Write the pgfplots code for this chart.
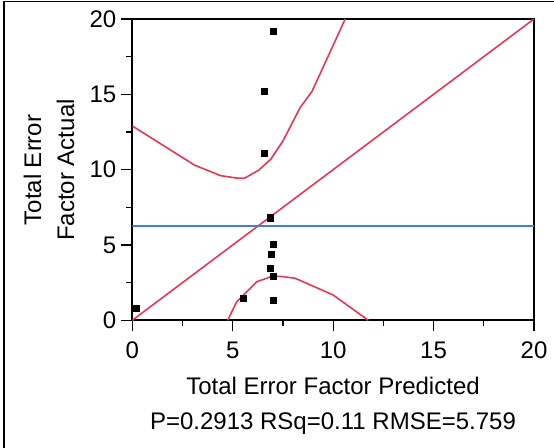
\documentclass[border=0pt]{standalone}
\usepackage{fontspec}
\setmainfont{Liberation Sans}
\usepackage{pgfplots}
\pgfplotsset{compat=1.18}
\definecolor{fitred}{RGB}{237,52,82}
\definecolor{meanblue}{RGB}{60,125,230}
\newcommand{\bigfont}{\fontsize{24bp}{33bp}\selectfont}

\begin{document}
\begin{tikzpicture}[x=1bp,y=1bp]
\path[use as bounding box] (0,0) rectangle (554,448);
% outer frame (only left and top visible)
\draw[line width=1.5bp] (4,0) -- (4,446.5) -- (554,446.5);
\begin{axis}[
  at={(132.3bp,127.7bp)}, anchor=south west, scale only axis,
  width=401.7bp, height=301.3bp,
  xmin=0, xmax=20, ymin=0, ymax=20,
  xtick={0,5,...,20}, ytick={0,5,...,20},
  minor tick num=1,
  tick align=outside, xtick pos=left, ytick pos=left,
  major tick length=11bp, minor tick length=6bp,
  tick style={black, line width=1.3bp},
  axis line style={line width=1.8bp},
  ticklabel style={font=\bigfont},
  xticklabel style={yshift=-7bp},
  yticklabel style={xshift=-1.5bp},
  /pgf/number format/assume math mode=true,
]
% fit line and mean line
\addplot[fitred, line width=1.6bp] coordinates {(0,0) (20,20)};
\addplot[meanblue, line width=1.6bp] coordinates {(0,6.26) (20,6.26)};
% confidence curves
\addplot[fitred, line width=1.6bp] coordinates {
  (0,12.9) (3.1,10.3) (4.4,9.6) (5.2,9.44) (5.6,9.44) (6.3,9.97)
  (6.9,10.7) (7.5,11.9) (8.35,14.1) (8.95,15.2) (10.6,20)};
\addplot[fitred, line width=1.6bp] coordinates {
  (4.75,0) (5.2,1.23) (6.2,2.56) (7.0,2.94) (7.5,2.9) (8.1,2.79)
  (8.35,2.65) (10.0,1.68) (11.75,0)};
% observations
\addplot[only marks, mark=square*, mark size=3bp, black] coordinates {
  (0.18,0.80) (5.50,1.46) (6.89,6.81) (6.99,5.06) (6.91,4.40)
  (6.89,3.47) (6.99,2.92) (6.99,1.35) (6.99,19.2) (6.57,15.22) (6.57,11.06)};
\end{axis}
\node[font=\bigfont, anchor=base] at (333,53) {Total Error Factor Predicted};
\node[font=\bigfont, anchor=base] at (333,18.7) {P=0.2913 RSq=0.11 RMSE=5.759};
\node[rotate=90, align=center, font=\bigfont] at (49,278) {Total Error\\Factor Actual};
\end{tikzpicture}
\end{document}
